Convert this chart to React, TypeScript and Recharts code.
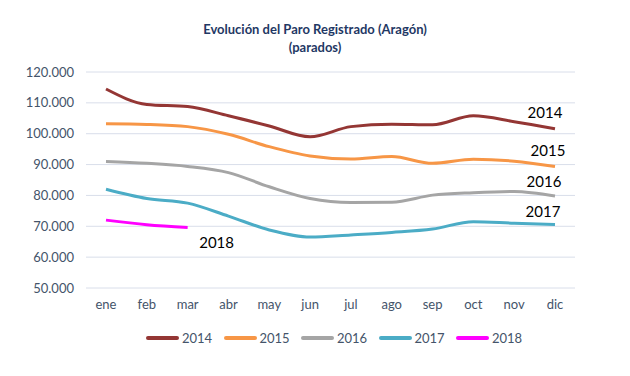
import React from 'react';
import { LineChart, Line, XAxis, YAxis, CartesianGrid, LabelList } from 'recharts';

const months = ['ene', 'feb', 'mar', 'abr', 'may', 'jun', 'jul', 'ago', 'sep', 'oct', 'nov', 'dic'];
const s2014 = [114500, 109500, 108800, 105800, 102500, 99000, 102300, 103100, 102900, 105800, 103900, 101600];
const s2015 = [103200, 103000, 102300, 99800, 95800, 92800, 91800, 92600, 90400, 91700, 91100, 89400];
const s2016 = [91000, 90400, 89400, 87400, 82800, 79000, 77700, 77800, 80100, 80900, 81300, 79800];
const s2017 = [82000, 79000, 77500, 73300, 68800, 66500, 67200, 68000, 69100, 71500, 71000, 70600];
const s2018 = [72000, 70500, 69600];
const yTicks = [50000, 60000, 70000, 80000, 90000, 100000, 110000, 120000];

const seriesDefs = [
  { key: 'y2014', name: '2014', values: s2014, color: '#943634' },
  { key: 'y2015', name: '2015', values: s2015, color: '#F79646' },
  { key: 'y2016', name: '2016', values: s2016, color: '#A5A5A5' },
  { key: 'y2017', name: '2017', values: s2017, color: '#4BACC6' },
  { key: 'y2018', name: '2018', values: s2018, color: '#FF00FF' },
];

const data = months.map((m, i) => {
  const row: any = { month: m };
  seriesDefs.forEach((s) => {
    row[s.key] = i < s.values.length ? s.values[i] : null;
  });
  return row;
});

const labelOffsets: Record<string, { dx: number; dy: number }> = {
  '2014': { dx: -10, dy: -17 },
  '2015': { dx: -7, dy: -16 },
  '2016': { dx: -11, dy: -15 },
  '2017': { dx: -12, dy: -13 },
  '2018': { dx: 29, dy: 14 },
};

const fontFamily = 'Lato, "Open Sans", sans-serif';
const fmt = (v: number) => (v / 1000).toFixed(0) + '.000';

function makeLabel(name: string, lastIndex: number) {
  return (props: any) => {
    const { x, y, index } = props;
    if (index !== lastIndex || x == null || y == null) return null;
    const o = labelOffsets[name];
    return (
      <text x={x + o.dx} y={y + o.dy} textAnchor="middle" dominantBaseline="central" fill="#000" fontSize={15} fontFamily={fontFamily}>
        {name}
      </text>
    );
  };
}

export default function App() {
  return (
    <div style={{ position: 'absolute', left: 0, top: 0, width: 630, height: 376, background: '#fff', fontFamily }}>
      <div style={{ position: 'absolute', left: 0, top: 20, width: 630, textAlign: 'center', color: '#1F3864', fontWeight: 700, fontSize: 13, lineHeight: '18px' }}>
        <div>Evolución del Paro Registrado (Aragón)</div>
        <div>(parados)</div>
      </div>
      <LineChart width={630} height={376} data={data} margin={{ top: 72, right: 55, bottom: 58, left: 0 }}>
        <CartesianGrid horizontal vertical={false} stroke="#D9DEEA" />
        <XAxis
          dataKey="month"
          padding={{ left: 20, right: 20 }}
          axisLine={false}
          tickLine={false}
          tickMargin={6}
          height={30}
          tick={{ fill: '#44546A', fontSize: 13, fontFamily }}
          interval={0}
        />
        <YAxis
          width={86}
          domain={[50000, 120000]}
          ticks={yTicks}
          tickFormatter={fmt}
          axisLine={false}
          tickLine={false}
          tickMargin={6}
          tick={{ fill: '#44546A', fontSize: 13, fontFamily }}
        />
        {seriesDefs.map((s) => (
          <Line
            key={s.key}
            dataKey={s.key}
            name={s.name}
            type="monotone"
            stroke={s.color}
            strokeWidth={3}
            dot={false}
            activeDot={false}
            connectNulls={false}
            isAnimationActive={false}
          >
            <LabelList dataKey={s.key} content={makeLabel(s.name, s.values.length - 1)} />
          </Line>
        ))}
      </LineChart>
      <div style={{ position: 'absolute', left: 0, top: 329, width: 630, height: 18 }}>
        {seriesDefs.map((s, i) => (
          <div key={s.key} style={{ position: 'absolute', left: 146 + i * 77.5, top: 0, display: 'flex', alignItems: 'center', height: 18 }}>
            <span style={{ display: 'inline-block', width: 33, height: 4, background: s.color, borderRadius: 2, marginRight: 3 }} />
            <span style={{ color: '#44546A', fontSize: 13 }}>{s.name}</span>
          </div>
        ))}
      </div>
    </div>
  );
}
